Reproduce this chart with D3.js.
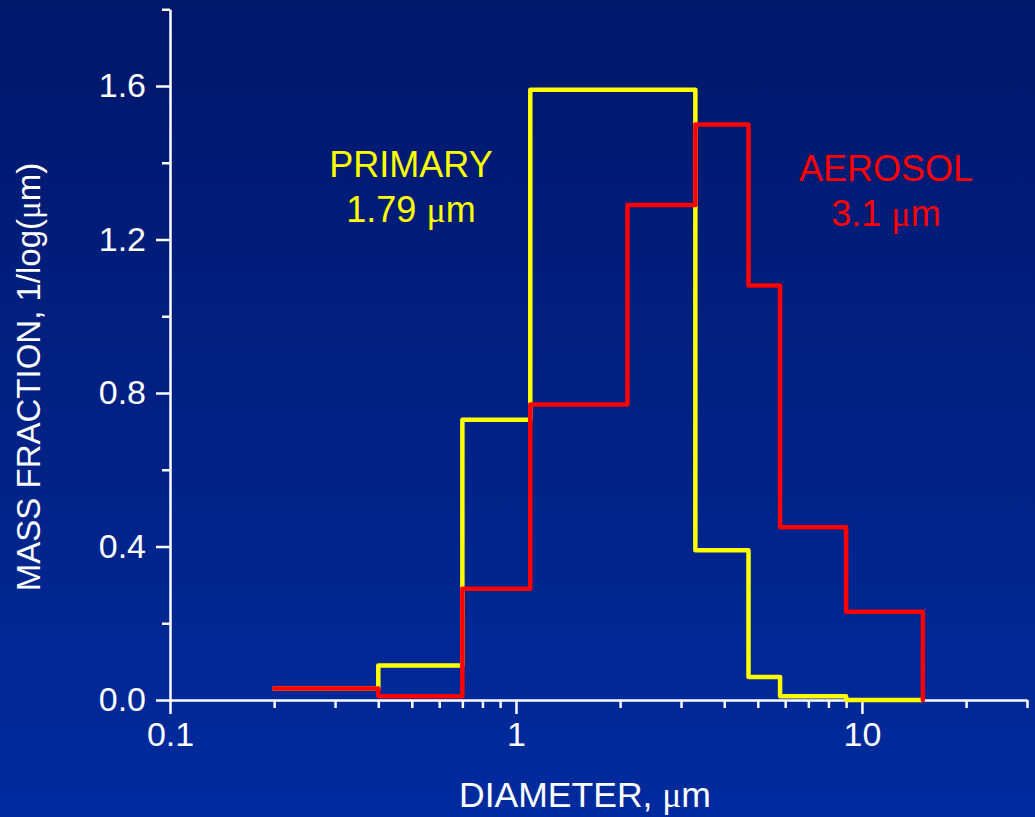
<!DOCTYPE html>
<html>
<head>
<meta charset="utf-8">
<script src="https://cdn.jsdelivr.net/npm/d3@7"></script>
<style>
  html, body { margin: 0; padding: 0; background: #001f80; }
  svg { display: block; }
  text { font-family: "Liberation Sans", Arial, sans-serif; }
</style>
</head>
<body>
<svg id="chart" width="1035" height="817"></svg>
<script>
// ---- data ----
const binEdges = [0.2, 0.4, 0.7, 1.1, 2.1, 3.3, 4.7, 5.8, 9, 15];
const primaryValues = [0.03, 0.09, 0.73, 1.59, 1.59, 0.39, 0.06, 0.01, 0.0];
const aerosolValues = [0.03, 0.01, 0.29, 0.77, 1.29, 1.50, 1.08, 0.45, 0.23];
const xMajorTicks = [0.1, 1, 10];
const xTickLabels = ["0.1", "1", "10"];
const xMinorTicks = [0.2,0.3,0.4,0.5,0.6,0.7,0.8,0.9,2,3,4,5,6,7,8,9,20,30];
const yMajorTicks = [0.0, 0.4, 0.8, 1.2, 1.6];
const yMinorTicks = [0.2, 0.6, 1.0, 1.4, 1.8];
const xDomain = [0.1, 30];
const yDomain = [0, 1.8];
const seriesLabels = [
  { lines: ["PRIMARY", "1.79 \u03bcm"], color: "#ffff00" },
  { lines: ["AEROSOL", "3.1 \u03bcm"], color: "#ff0000" }
];

// ---- layout ----
const W = 1035, H = 817;
const mLeft = 170, mRight = 1027, mTop = 9.25, mBottom = 700;

const svg = d3.select("#chart");
const defs = svg.append("defs");
const grad = defs.append("linearGradient").attr("id", "bg")
  .attr("x1", 0).attr("y1", 0).attr("x2", 0).attr("y2", 1);
grad.append("stop").attr("offset", "0%").attr("stop-color", "#00176a");
grad.append("stop").attr("offset", "100%").attr("stop-color", "#002b9e");
svg.append("rect").attr("width", W).attr("height", H).attr("fill", "url(#bg)");

const x = d3.scaleLog().domain(xDomain).range([mLeft, mRight]);
const y = d3.scaleLinear().domain(yDomain).range([mBottom, mTop]);

const axisColor = "#ffffff";
function styleAxis(g) {
  g.select(".domain").attr("stroke", axisColor).attr("stroke-width", 2.5);
  g.selectAll(".tick line").attr("stroke", axisColor).attr("stroke-width", 2.5);
  g.selectAll(".tick text").attr("fill", axisColor)
    .style("font-family", "'Liberation Sans', Arial, sans-serif")
    .style("font-size", "34px");
}

// x axis
const gxMinor = svg.append("g").attr("transform", `translate(0,${mBottom})`)
  .call(d3.axisBottom(x).tickValues(xMinorTicks).tickSize(8).tickFormat(""));
styleAxis(gxMinor);
gxMinor.select(".domain").remove();
const gx = svg.append("g").attr("transform", `translate(0,${mBottom})`)
  .call(d3.axisBottom(x).tickValues(xMajorTicks).tickSize(14).tickSizeOuter(0)
    .tickPadding(8).tickFormat((d, i) => xTickLabels[i]));
styleAxis(gx);

// y axis
const gyMinor = svg.append("g").attr("transform", `translate(${mLeft},0)`)
  .call(d3.axisLeft(y).tickValues(yMinorTicks).tickSize(8).tickFormat(""));
styleAxis(gyMinor);
gyMinor.select(".domain").remove();
const gy = svg.append("g").attr("transform", `translate(${mLeft},0)`)
  .call(d3.axisLeft(y).tickValues(yMajorTicks).tickSize(14).tickSizeOuter(0)
    .tickPadding(10).tickFormat(d3.format(".1f")));
styleAxis(gy);

// series (step histograms)
function stepPoints(values) {
  const pts = values.map((v, i) => [binEdges[i], v]);
  pts.push([binEdges[binEdges.length - 1], values[values.length - 1]]);
  pts.push([binEdges[binEdges.length - 1], 0]);
  return pts;
}
const line = d3.line().x(d => x(d[0])).y(d => y(d[1])).curve(d3.curveStepAfter);
svg.append("path").attr("d", line(stepPoints(primaryValues)))
  .attr("fill", "none").attr("stroke", "#ffff00").attr("stroke-width", 4.5)
  .attr("stroke-linejoin", "round").attr("stroke-linecap", "round");
svg.append("path").attr("d", line(stepPoints(aerosolValues)))
  .attr("fill", "none").attr("stroke", "#ff0000").attr("stroke-width", 4.5)
  .attr("stroke-linejoin", "round").attr("stroke-linecap", "round");

// series labels
const labelPos = [{ x: 411, y: 177 }, { x: 886, y: 181 }];
seriesLabels.forEach((s, i) => {
  s.lines.forEach((ln, j) => {
    const t = svg.append("text").attr("x", labelPos[i].x).attr("y", labelPos[i].y + j * 45)
      .attr("text-anchor", "middle").attr("fill", s.color).style("font-size", "36px");
    const parts = ln.split("\u03bc");
    if (parts.length > 1) {
      t.append("tspan").text(parts[0]);
      t.append("tspan").style("font-family", "'Liberation Serif', serif").text("\u03bc");
      t.append("tspan").text(parts[1]);
    } else {
      t.text(ln);
    }
  });
});

// axis titles
const xt = svg.append("text").attr("x", 585).attr("y", 807).attr("text-anchor", "middle")
  .attr("fill", "#ffffff").style("font-size", "35.5px");
xt.append("tspan").text("DIAMETER, ");
xt.append("tspan").style("font-family", "'Liberation Serif', serif").text("\u03bc");
xt.append("tspan").text("m");

const yt = svg.append("text").attr("transform", "translate(40,377) rotate(-90)")
  .attr("text-anchor", "middle").attr("fill", "#ffffff").style("font-size", "33px");
yt.append("tspan").text("MASS FRACTION, 1/log(");
yt.append("tspan").style("font-family", "'Liberation Serif', serif").text("\u03bc");
yt.append("tspan").text("m)");
</script>
</body>
</html>
